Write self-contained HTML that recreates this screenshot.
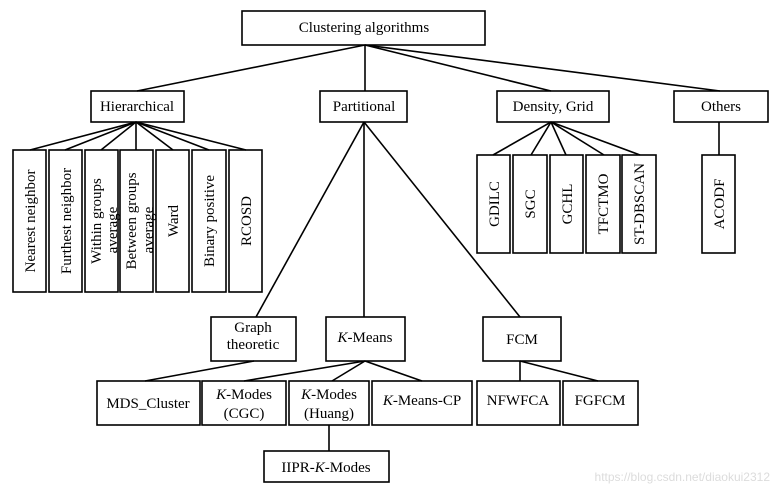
<!DOCTYPE html>
<html><head><meta charset="utf-8"><style>
html,body{margin:0;padding:0;background:#fff;width:782px;height:496px;overflow:hidden}
svg text{font-family:"Liberation Serif",serif;font-size:15px;fill:#000}
</style></head><body>
<svg width="782" height="496" viewBox="0 0 782 496" xmlns="http://www.w3.org/2000/svg">
<g stroke="#000" stroke-width="1.6" fill="none">
<!-- top connectors -->
<line x1="365" y1="45" x2="137" y2="91"/>
<line x1="365" y1="45" x2="365" y2="91"/>
<line x1="365" y1="45" x2="551" y2="91"/>
<line x1="365" y1="45" x2="720" y2="91"/>
<!-- hierarchical -->
<line x1="136" y1="122" x2="30" y2="150"/>
<line x1="136" y1="122" x2="65" y2="150"/>
<line x1="136" y1="122" x2="101" y2="150"/>
<line x1="136" y1="122" x2="136" y2="150"/>
<line x1="136" y1="122" x2="173" y2="150"/>
<line x1="136" y1="122" x2="209" y2="150"/>
<line x1="136" y1="122" x2="246" y2="150"/>
<!-- density -->
<line x1="551" y1="122" x2="493" y2="155"/>
<line x1="551" y1="122" x2="531" y2="155"/>
<line x1="551" y1="122" x2="566" y2="155"/>
<line x1="551" y1="122" x2="604" y2="155"/>
<line x1="551" y1="122" x2="640" y2="155"/>
<line x1="719" y1="122" x2="719" y2="155"/>
<!-- partitional -->
<line x1="364" y1="122" x2="256" y2="317"/>
<line x1="364" y1="122" x2="364" y2="317"/>
<line x1="364" y1="122" x2="520" y2="317"/>
<line x1="254" y1="361" x2="145" y2="381"/>
<line x1="365" y1="361" x2="244" y2="381"/>
<line x1="365" y1="361" x2="332" y2="381"/>
<line x1="365" y1="361" x2="422" y2="381"/>
<line x1="520" y1="361" x2="520" y2="381"/>
<line x1="520" y1="361" x2="598" y2="381"/>
<line x1="329" y1="425" x2="329" y2="451"/>
<!-- boxes -->
<rect x="242" y="11" width="243" height="34"/>
<rect x="91" y="91" width="93" height="31"/>
<rect x="320" y="91" width="87" height="31"/>
<rect x="497" y="91" width="112" height="31"/>
<rect x="674" y="91" width="94" height="31"/>
<rect x="13" y="150" width="33" height="142"/>
<rect x="49" y="150" width="33" height="142"/>
<rect x="85" y="150" width="33" height="142"/>
<rect x="120" y="150" width="33" height="142"/>
<rect x="156" y="150" width="33" height="142"/>
<rect x="192" y="150" width="34" height="142"/>
<rect x="229" y="150" width="33" height="142"/>
<rect x="477" y="155" width="33" height="98"/>
<rect x="513" y="155" width="34" height="98"/>
<rect x="550" y="155" width="33" height="98"/>
<rect x="586" y="155" width="34" height="98"/>
<rect x="622" y="155" width="34" height="98"/>
<rect x="702" y="155" width="33" height="98"/>
<rect x="211" y="317" width="85" height="44"/>
<rect x="326" y="317" width="79" height="44"/>
<rect x="483" y="317" width="78" height="44"/>
<rect x="97" y="381" width="103" height="44"/>
<rect x="202" y="381" width="84" height="44"/>
<rect x="289" y="381" width="80" height="44"/>
<rect x="372" y="381" width="100" height="44"/>
<rect x="477" y="381" width="83" height="44"/>
<rect x="563" y="381" width="75" height="44"/>
<rect x="264" y="451" width="125" height="31"/>
</g>
<g text-anchor="middle">
<text x="364" y="32">Clustering algorithms</text>
<text x="137" y="111">Hierarchical</text>
<text x="364" y="111">Partitional</text>
<text x="553" y="111">Density, Grid</text>
<text x="721" y="111">Others</text>
<text transform="translate(35,221) rotate(-90)">Nearest neighbor</text>
<text transform="translate(71,221) rotate(-90)">Furthest neighbor</text>
<text transform="translate(101,221) rotate(-90)">Within groups</text>
<text transform="translate(117,230) rotate(-90)">average</text>
<text transform="translate(136,221) rotate(-90)">Between groups</text>
<text transform="translate(153,230) rotate(-90)">average</text>
<text transform="translate(178,221) rotate(-90)">Ward</text>
<text transform="translate(214,221) rotate(-90)">Binary positive</text>
<text transform="translate(251,221) rotate(-90)">RCOSD</text>
<text transform="translate(499,204) rotate(-90)">GDILC</text>
<text transform="translate(535,204) rotate(-90)">SGC</text>
<text transform="translate(572,204) rotate(-90)">GCHL</text>
<text transform="translate(608,204) rotate(-90)">TFCTMO</text>
<text transform="translate(644,204) rotate(-90)">ST-DBSCAN</text>
<text transform="translate(724,204) rotate(-90)">ACODF</text>
<text x="253" y="332">Graph</text>
<text x="253" y="349">theoretic</text>
<text x="365" y="342"><tspan font-style="italic">K</tspan>-Means</text>
<text x="522" y="344">FCM</text>
<text x="148" y="408">MDS_Cluster</text>
<text x="244" y="399"><tspan font-style="italic">K</tspan>-Modes</text>
<text x="244" y="418">(CGC)</text>
<text x="329" y="399"><tspan font-style="italic">K</tspan>-Modes</text>
<text x="329" y="418">(Huang)</text>
<text x="422" y="405"><tspan font-style="italic">K</tspan>-Means-CP</text>
<text x="518" y="405">NFWFCA</text>
<text x="600" y="405">FGFCM</text>
<text x="326" y="472">IIPR-<tspan font-style="italic">K</tspan>-Modes</text>
</g>
<text x="770" y="481" text-anchor="end" style="font-family:'Liberation Sans',sans-serif;font-size:12px;fill:#dcdcdc">https://blog.csdn.net/diaokui2312</text>
</svg>
</body></html>
